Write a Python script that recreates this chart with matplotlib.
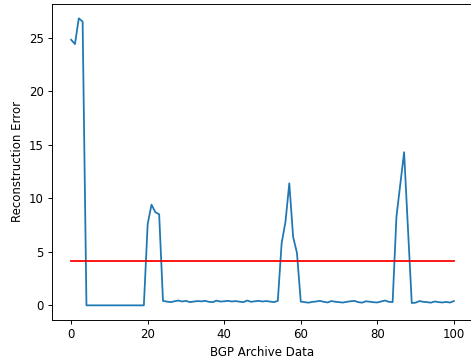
import numpy as np
import matplotlib
matplotlib.use("Agg")
import matplotlib.pyplot as plt

# reconstruction error per archive sample
start = [24.8, 24.4, 26.8, 26.5]
flat = [0.0] * 16
spike1 = [7.6, 9.4, 8.7, 8.5]
noise1 = [0.42, 0.35, 0.3, 0.38, 0.45, 0.36, 0.42, 0.3, 0.35, 0.4, 0.37, 0.42,
          0.33, 0.3, 0.44, 0.35, 0.38, 0.42, 0.36, 0.4, 0.34, 0.3, 0.45, 0.33,
          0.38, 0.42, 0.36, 0.4, 0.35, 0.3, 0.42]
spike2 = [5.8, 7.8, 11.4, 6.4, 4.9]
noise2 = [0.35, 0.3, 0.25, 0.32, 0.36, 0.42, 0.33, 0.27, 0.4, 0.34, 0.3,
          0.26, 0.33, 0.38, 0.42, 0.3, 0.25, 0.38, 0.34, 0.29, 0.27, 0.36,
          0.45, 0.33, 0.3]
spike3 = [8.3, 11.3, 14.3, 7.2]
noise3 = [0.22, 0.25, 0.4, 0.33, 0.3, 0.25, 0.36, 0.3, 0.27, 0.32, 0.26, 0.4]

errors = start + flat + spike1 + noise1 + spike2 + noise2 + spike3 + noise3
threshold = 4.1

# original looks like a ~85 dpi render, cropped tight
d = 85
fig = plt.figure(figsize=(471 / d, 359 / d), dpi=d)
ax = fig.add_axes([52 / 471, 1 - 319.7 / 359, 421 / 471, (319.7 - 4) / 359])
ax.plot(range(len(errors)), errors)
ax.plot([0, len(errors) - 1], [threshold, threshold], color="red")
ax.set_xlabel("BGP Archive Data")
ax.set_ylabel("Reconstruction Error")

fig.savefig("out.png", dpi=d)
